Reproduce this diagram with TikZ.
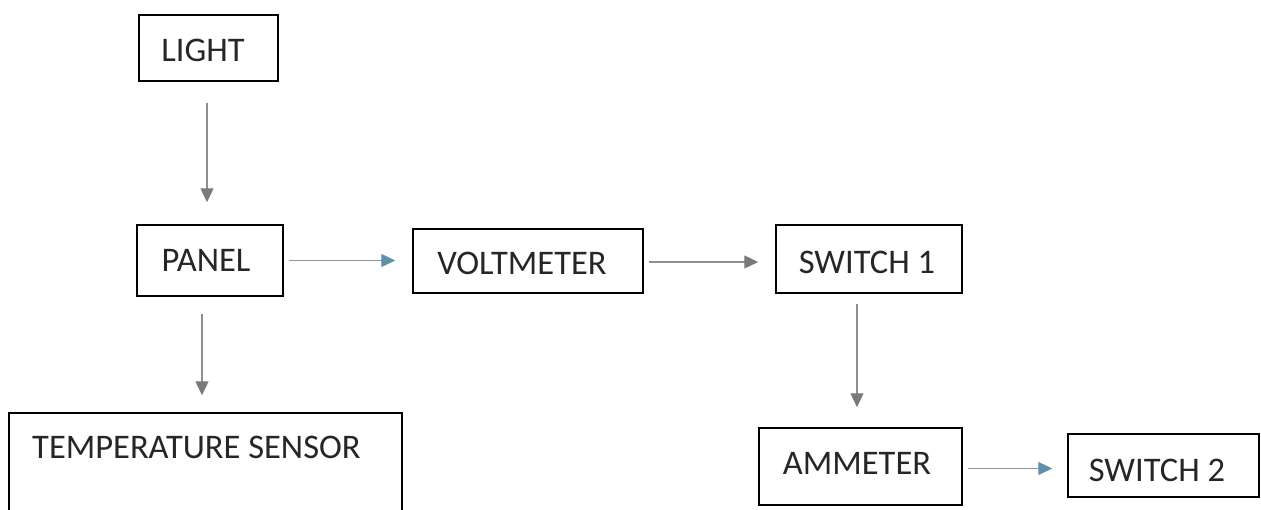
\documentclass[tikz,border=0pt]{standalone}
\usepackage{fontspec}
\setmainfont{Carlito}
\usetikzlibrary{arrows.meta}
\definecolor{arrgray}{HTML}{8E8E8E}
\definecolor{headgray}{HTML}{7A7A7A}
\definecolor{arrblue}{HTML}{8A98A0}
\definecolor{headblue}{HTML}{5E91AA}
\tikzset{
  box/.style={draw=black, line width=1.5pt, inner sep=0pt},
  txt/.style={inner sep=0pt, text=black!85, font=\fontsize{34.5}{40}\selectfont},
  flow/.style={draw=arrgray, line width=1.4pt, -{Triangle[length=14pt,width=13pt,color=headgray]}},
  flowb/.style={draw=arrblue, line width=1.4pt, -{Triangle[length=14pt,width=13pt,color=headblue]}}
}
\begin{document}
\begin{tikzpicture}[x=1pt,y=-1pt]
\useasboundingbox (0,0) rectangle (1261,509);
\node[box, minimum width=139pt, minimum height=66pt, label={[txt, name=lightt, xshift=-5.5pt, yshift=-2pt]center:LIGHT}] (light) at (208.5,48) {};
\node[box, minimum width=146pt, minimum height=71pt, label={[txt, name=panelt, xshift=-4pt]center:PANEL}] (panel) at (210,260.5) {};
\node[box, minimum width=230pt, minimum height=64pt, label={[txt, name=voltt, xshift=-6pt, yshift=-2pt]center:VOLTMETER}] (volt) at (528,261) {};
\node[box, minimum width=186pt, minimum height=68pt, label={[txt, name=sw1t, xshift=-2pt, yshift=-3pt]center:SWITCH 1}] (sw1) at (869,259) {};
\node[box, minimum width=393pt, minimum height=107pt] (temp) at (205.5,466.5) {};
\node[txt, anchor=west] (tempt) at (32,447) {TEMPERATURE SENSOR};
\node[box, minimum width=203pt, minimum height=77pt, label={[txt, name=ammt, xshift=-3.5pt, yshift=3.5pt]center:AMMETER}] (amm) at (860.5,466.5) {};
\node[box, minimum width=191pt, minimum height=63pt, label={[txt, name=sw2t, xshift=-6.5pt, yshift=-4.5pt]center:SWITCH 2}] (sw2) at (1163.5,465.5) {};
\coordinate (lp) at ([xshift=-1.5pt]light.south);
\draw[flow, shorten <=21pt, shorten >=22pt] (lp) -- (lp |- panel.north);
\draw[flowb, shorten <=5pt, shorten >=17pt] (panel.east) -- (panel.east -| volt.west);
\draw[flow, shorten <=5pt, shorten >=17pt] ([yshift=-1pt]volt.east) -- ([yshift=-1pt]volt.east -| sw1.west);
\coordinate (pt) at ([xshift=-8pt]panel.south);
\draw[flow, shorten <=17pt, shorten >=17pt] (pt) -- (pt |- temp.north);
\coordinate (sa) at ([xshift=-12pt]sw1.south);
\draw[flow, shorten <=10pt, shorten >=20pt] (sa) -- (sa |- amm.north);
\draw[flowb, shorten <=5pt, shorten >=15pt] ([yshift=-2pt]amm.east) -- ([yshift=-2pt]amm.east -| sw2.west);
\end{tikzpicture}
\end{document}
